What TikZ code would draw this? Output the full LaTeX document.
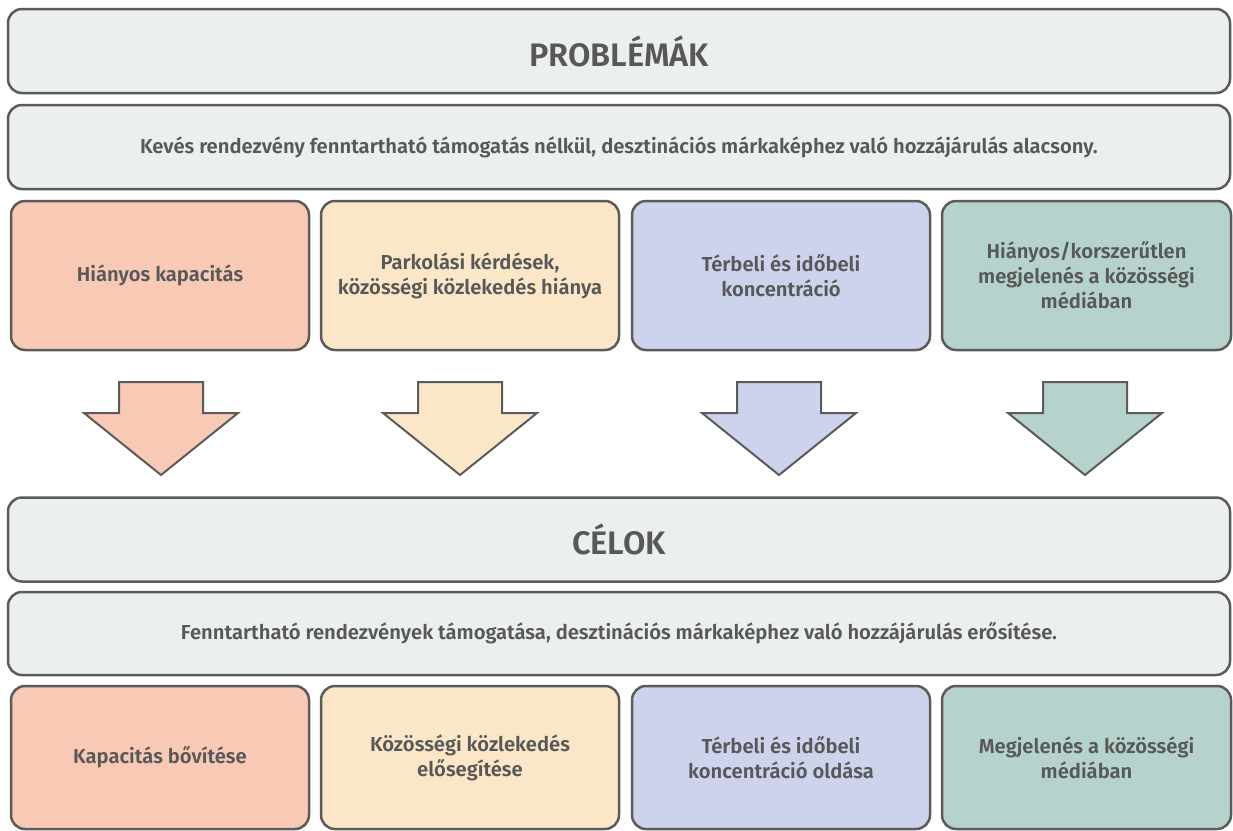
\documentclass[tikz,border=0pt]{standalone}
\usepackage{fontspec}
\setmainfont{Fira Sans}[BoldFont={Fira Sans SemiBold}]
\definecolor{edge}{HTML}{5B5B5B}
\definecolor{ink}{HTML}{585858}
\definecolor{band}{HTML}{ECEFF0}
\definecolor{peach}{HTML}{F8CAB6}
\definecolor{sand}{HTML}{FCE6C8}
\definecolor{lilac}{HTML}{CDD3EC}
\definecolor{sage}{HTML}{B6D2CD}
\begin{document}
\begin{tikzpicture}
  [x=1pt,y=-1pt,line width=2.5pt,
   box/.style={draw=edge,rounded corners=14pt,align=center,text=ink,inner sep=0pt,
     font=\bfseries\fontsize{20.2}{25}\selectfont},
   band/.style={box,fill=band,minimum width=1222pt,minimum height=84pt},
   head/.style={band,font=\bfseries\fontsize{32.5}{36}\selectfont},
   cell/.style={box,minimum width=298pt,minimum height=149pt},
   goal/.style={box,minimum width=298pt,minimum height=143pt}]
    \useasboundingbox (0,0) rectangle (1233,830);

    \node (prob)  [head] at (619,51)  {PROBLÉMÁK};
    \node (probd) [band] at (619,147) {Kevés rendezvény fenntartható támogatás nélkül, desztinációs márkaképhez való hozzájárulás alacsony.};
    \node (p1) [cell,fill=peach] at (160,275.5) {Hiányos kapacitás};
    \node (p2) [cell,fill=sand]  at (470,275.5) {Parkolási kérdések,\\közösségi közlekedés hiánya};
    \node (p3) [cell,fill=lilac] at (781,275.5) {Térbeli és időbeli\\koncentráció};
    \node (p4) [cell,fill=sage,minimum width=289pt] at (1086.5,275.5) {Hiányos/korszerűtlen\\megjelenés a közösségi\\médiában};

    \foreach \x/\c in {161/peach,460/sand,779/lilac,1085/sage}
      \draw[edge,fill=\c,line width=2pt] (\x-42,382) -- (\x+42,382) -- (\x+42,413) -- (\x+77,413)
        -- (\x,475) -- (\x-77,413) -- (\x-42,413) -- cycle;

    \node (cel)  [head] at (619,539.5) {CÉLOK};
    \node (celd) [band,minimum height=83pt] at (619,633.5) {Fenntartható rendezvények támogatása, desztinációs márkaképhez való hozzájárulás erősítése.};
    \node (g1) [goal,fill=peach] at (160,757.5) {Kapacitás bővítése};
    \node (g2) [goal,fill=sand]  at (470,757.5) {Közösségi közlekedés\\elősegítése};
    \node (g3) [goal,fill=lilac] at (781,757.5) {Térbeli és időbeli\\koncentráció oldása};
    \node (g4) [goal,fill=sage,minimum width=289pt] at (1086.5,757.5) {Megjelenés a közösségi\\médiában};
  \end{tikzpicture}
\end{document}
